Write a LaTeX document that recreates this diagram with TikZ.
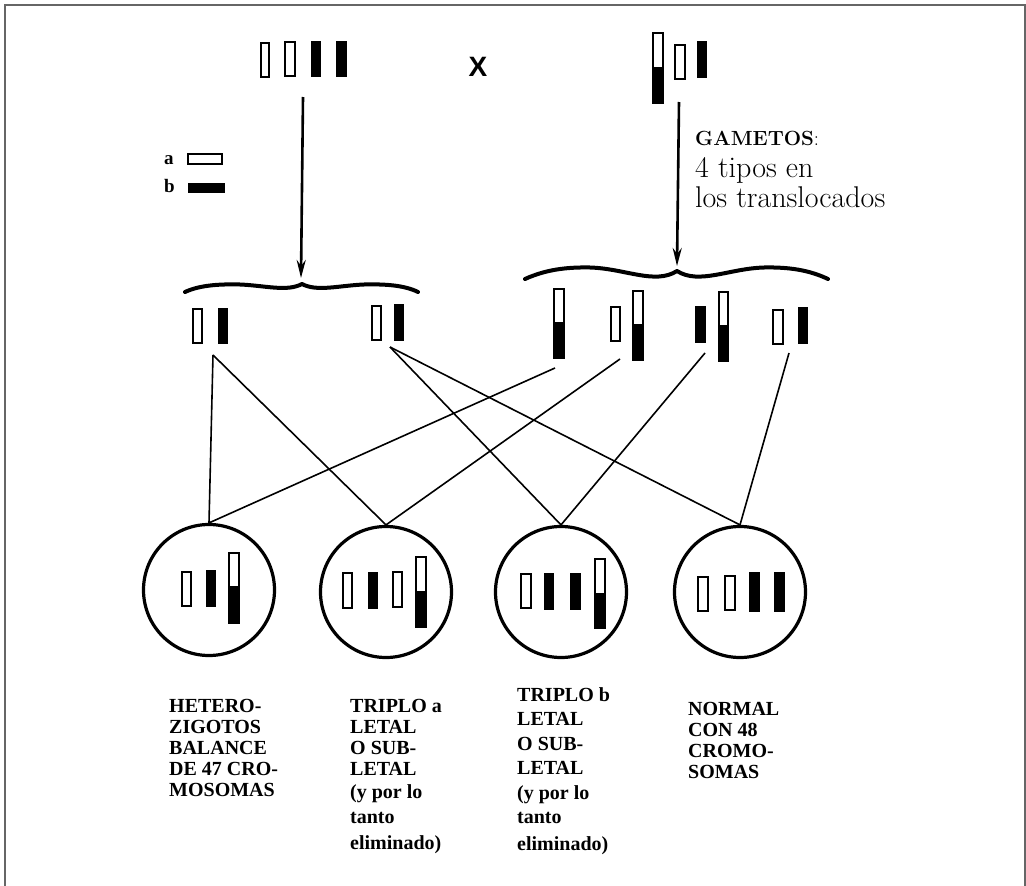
\documentclass[tikz,border=0pt]{standalone}
\usepackage{fontspec}
\newfontfamily\labfont{Liberation Serif}
\newfontfamily\xfont{Liberation Sans}
\usetikzlibrary{arrows.meta}
\tikzset{
  wc/.style={draw=black,fill=white,line width=1.8pt},
  bc/.style={fill=black},
  conn/.style={line width=1.6pt},
  zyg/.style={circle,draw,line width=3.2pt,minimum size=131pt,inner sep=0pt},
  bracestyle/.style={line width=4pt,line cap=round,line join=round},
  arr/.style={line width=2.6pt,-{Stealth[length=18pt,width=9pt]}},
  lab/.style={font=\labfont\bfseries\fontsize{20}{21}\selectfont,align=left,anchor=north west,inner sep=0pt},
  leg/.style={font=\labfont\bfseries\fontsize{19}{20}\selectfont,anchor=base west,inner sep=0pt},
  gtxt/.style={anchor=base west,inner sep=0pt,text=black},
}
\newcommand{\wchr}[4]{\draw[wc] (#1,#2) rectangle (#3,#4);}
\newcommand{\bchr}[4]{\fill[bc] (#1,#2) rectangle (#3,#4);}
\newcommand{\tchr}[5]{\fill[bc] (#1,#4) rectangle (#3,#5);\draw[line width=1.8pt] (#1,#2) rectangle (#3,#5);}
\begin{document}
\begin{tikzpicture}[x=1pt,y=-1pt]
\useasboundingbox (0,0) rectangle (1026,886);
% frame
\draw[line width=2pt,black!60] (5,886) -- (5,5) -- (1025,5) -- (1025,886);

% parents
\wchr{261}{43}{269}{77}
\wchr{285}{42}{295}{76}
\bchr{311}{41}{321}{77}
\bchr{336}{41}{347}{77}
\node[font=\xfont\bfseries\fontsize{28}{30}\selectfont,inner sep=0pt] (cross) at (478,67) {X};
\tchr{653}{33}{663}{67}{103}
\wchr{675}{45}{685}{79}
\bchr{697}{41}{707}{78}

% legend
\node[leg] (la) at (164,164) {a};
\wchr{188}{154}{222}{164}
\node[leg] (lb) at (164,192) {b};
\bchr{188}{183}{225}{193}

% gametes text
\node[gtxt,font=\fontsize{20.5}{22}\selectfont] (gam) at (695,145) {\textbf{GAMETOS}:};
\node[gtxt,font=\fontsize{30}{32}\selectfont] (tip1) at (695,177) {4 tipos en};
\node[gtxt,font=\fontsize{30}{32}\selectfont] (tip2) at (695,207) {los translocados};

% arrows
\coordinate (aL0) at (303,97);
\coordinate (aL1) at (301,278);
\coordinate (aR0) at (679,102);
\coordinate (aR1) at (677,266);
\draw[arr] (aL0) -- (aL1);
\draw[arr] (aR0) -- (aR1);

% braces
\draw[bracestyle] (185,292) .. controls (200,285) and (220,284) .. (240,284.5)
  .. controls (265,285.5) and (287,292) .. (302,284)
  .. controls (317,292) and (339,285.5) .. (364,284.5)
  .. controls (384,284) and (404,285) .. (418,292);
\draw[bracestyle] (525,279) .. controls (545,270) and (565,267) .. (590,267.5)
  .. controls (625,268.5) and (655,285) .. (677,271)
  .. controls (699,285) and (729,268.5) .. (764,267.5)
  .. controls (789,267) and (809,270) .. (828,279);

% gametes
\wchr{193}{309}{202}{343}
\bchr{218}{308}{228}{344}
\wchr{372}{306}{381}{340}
\bchr{394}{304}{404}{341}
\tchr{554}{289}{564}{322}{358}
\wchr{611}{307}{620}{341}
\tchr{633}{291}{643}{324}{360}
\bchr{695}{306}{706}{343}
\tchr{719}{292}{728}{325}{361}
\wchr{773}{310}{783}{344}
\bchr{798}{307}{808}{344}

\coordinate (gL1) at (213,355);
\coordinate (gL2) at (390,347);
\coordinate (gR1) at (555,368);
\coordinate (gR2) at (620,359);
\coordinate (gR3) at (705,353);
\coordinate (gR4) at (789,353);

% zygotes
\node[zyg] (z1) at (209,590) {};
\node[zyg] (z2) at (386,592) {};
\node[zyg] (z3) at (561,592) {};
\node[zyg] (z4) at (740,592) {};

\draw[conn] (gL1) -- (z1.north);
\draw[conn] (gL1) -- (z2.north);
\draw[conn] (gL2) -- (z3.north);
\draw[conn] (gL2) -- (z4.north);
\draw[conn] (gR1) -- (z1.north);
\draw[conn] (gR2) -- (z2.north);
\draw[conn] (gR3) -- (z3.north);
\draw[conn] (gR4) -- (z4.north);

% zygote contents
\wchr{182}{572}{191}{606}
\bchr{206}{570}{216}{607}
\tchr{229}{553}{239}{586}{623}

\wchr{343}{573}{352}{608}
\bchr{368}{572}{378}{609}
\wchr{393}{572}{402}{607}
\tchr{416}{557}{426}{591}{627}

\wchr{521}{574}{531}{608}
\bchr{544}{573}{554}{610}
\bchr{570}{573}{581}{610}
\tchr{595}{559}{605}{593}{628}

\wchr{698}{577}{708}{611}
\wchr{725}{576}{735}{610}
\bchr{749}{572}{760}{612}
\bchr{774}{572}{785}{612}

% labels
\node[lab] (t1) at (169,699) {HETERO-\\ZIGOTOS\\BALANCE\\DE 47 CRO-\\MOSOMAS};
\node[lab] (t2) at (350,699) {TRIPLO a\\LETAL\\O SUB-\\LETAL\\[2pt](y por lo\\[4pt]tanto\\[5pt]eliminado)};
\node[lab,font=\labfont\bfseries\fontsize{20}{24.5}\selectfont] (t3) at (517,687) {TRIPLO b\\LETAL\\O SUB-\\LETAL\\(y por lo\\tanto\\[2pt]eliminado)};
\node[lab] (t4) at (688,702) {NORMAL\\CON 48\\CROMO-\\SOMAS};
\end{tikzpicture}
\end{document}
